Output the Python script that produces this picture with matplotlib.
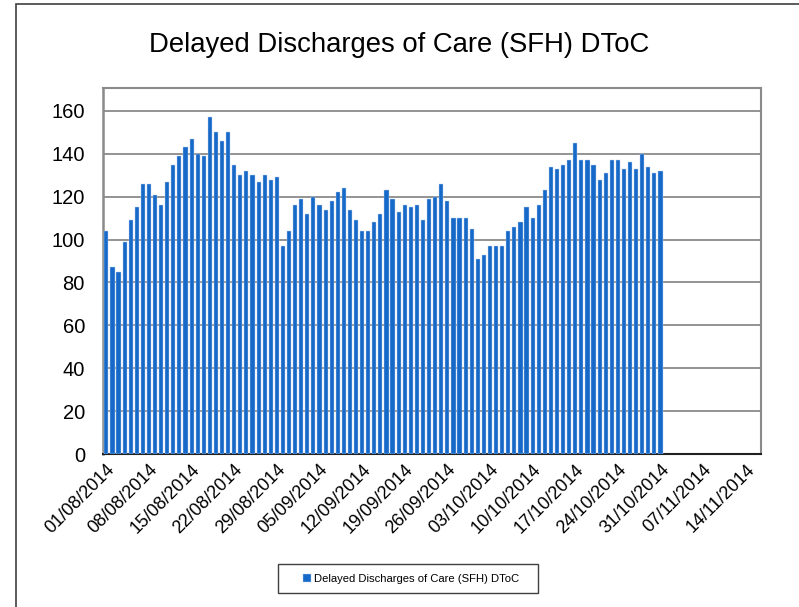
import matplotlib
matplotlib.use("Agg")
import matplotlib.pyplot as plt
import matplotlib.dates as mdates
from matplotlib.patches import Rectangle
import pandas as pd
import numpy as np

plt.rcParams['font.family'] = ['Liberation Sans', 'DejaVu Sans']

title = "Delayed Discharges of Care (SFH) DToC"
series_name = "Delayed Discharges of Care (SFH) DToC"
start_date = "2014-08-01"
values = [104, 87, 85, 99, 109, 115, 126, 126, 121, 116,
          127, 135, 139, 143, 147, 140, 139, 157, 150, 146,
          150, 135, 130, 132, 130, 127, 130, 128, 129, 97,
          104, 116, 119, 112, 120, 116, 114, 118, 122, 124,
          114, 109, 104, 104, 108, 112, 123, 119, 113, 116,
          115, 116, 109, 119, 120, 126, 118, 110, 110, 110,
          105, 91, 93, 97, 97, 97, 104, 106, 108, 115,
          110, 116, 123, 134, 133, 135, 137, 145, 137, 137,
          135, 128, 131, 137, 137, 133, 136, 133, 140, 134,
          131, 132]
tick_labels = ["01/08/2014", "08/08/2014", "15/08/2014", "22/08/2014",
               "29/08/2014", "05/09/2014", "12/09/2014", "19/09/2014",
               "26/09/2014", "03/10/2014", "10/10/2014", "17/10/2014",
               "24/10/2014", "31/10/2014", "07/11/2014", "14/11/2014"]
y_ticks = [0, 20, 40, 60, 80, 100, 120, 140, 160]

dates = pd.date_range(start_date, periods=len(values), freq="D")
tick_dates = pd.to_datetime(tick_labels, format="%d/%m/%Y")

fig = plt.figure(figsize=(7.99, 6.07), dpi=100)
ax = fig.add_axes([103/799, 1-454/607, (761-103)/799, (454-88)/607])

ax.bar(dates, values, width=0.68, color="#1769c9", edgecolor="#bcd3ee",
       linewidth=0.3, label=series_name, zorder=3)

d0 = mdates.date2num(dates[0])
ax.set_xlim(d0 - 0.55, d0 + 107.5)
ax.set_ylim(0, 170.7)
ax.set_yticks(y_ticks)
ax.set_yticklabels([str(v) for v in y_ticks], fontsize=14.5)
ax.set_xticks(tick_dates)
ax.set_xticklabels(tick_labels, rotation=45, ha="right", va="top",
                   rotation_mode="anchor", fontsize=13)
ax.tick_params(axis="y", length=0, pad=13)
ax.tick_params(axis="x", length=0, pad=5)
ax.grid(axis="y", color="#808080", linewidth=1.2, zorder=0)
ax.set_axisbelow(True)
for side in ["top", "right"]:
    ax.spines[side].set_color("#8a8a8a")
    ax.spines[side].set_linewidth(1.5)
ax.spines["left"].set_color("#8a8a8a")
ax.spines["left"].set_linewidth(1.8)
ax.spines["bottom"].set_color("#202020")
ax.spines["bottom"].set_linewidth(1.5)

fig.text(0.5, 1-45/607, title, ha="center", va="center", fontsize=19.8)

# legend box
fig.patches.append(Rectangle((278/799, 1-593/607), 260/799, 29/607,
                             transform=fig.transFigure, fill=False,
                             edgecolor="#404040", linewidth=1.0))
leg = fig.legend(loc="center", bbox_to_anchor=(411/799, 1-578.5/607),
                 fontsize=8.1, frameon=False,
                 handlelength=0.7, handleheight=0.7, handletextpad=0.3,
                 borderpad=0.2, borderaxespad=0)

# outer chart border
fig.patches.append(Rectangle((16/799, -0.1), 1.2, 1 - 4/607 + 0.1,
                             transform=fig.transFigure, fill=False,
                             edgecolor="#404040", linewidth=1.2))

fig.savefig("out.png", dpi=100)
